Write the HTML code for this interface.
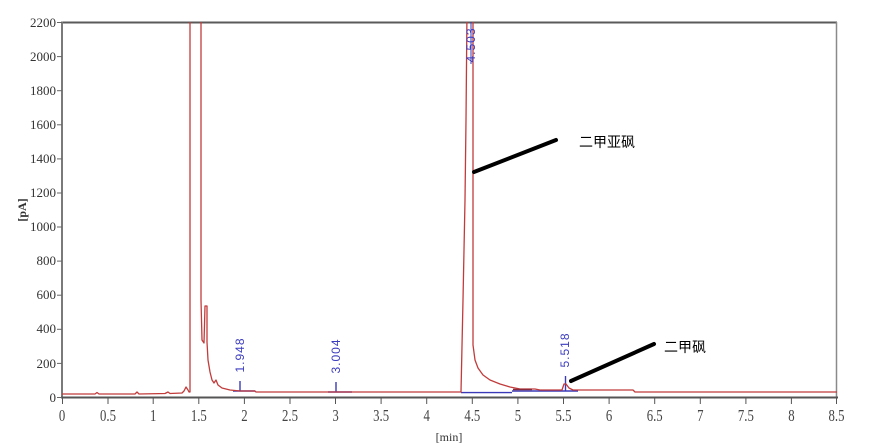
<!DOCTYPE html>
<html><head><meta charset="utf-8"><style>
html,body{margin:0;padding:0;background:#fff;}
svg{display:block;}
</style></head><body>
<svg width="884" height="448" viewBox="0 0 884 448" xmlns="http://www.w3.org/2000/svg">
<defs><clipPath id="pc"><rect x="62" y="22" width="775" height="376"/></clipPath></defs>
<rect width="884" height="448" fill="#fff"/>
<!-- frame -->
<line x1="62" y1="22.5" x2="837" y2="22.5" stroke="#5a5a5a" stroke-width="2"/>
<line x1="836.5" y1="22" x2="836.5" y2="398" stroke="#8a8a8a" stroke-width="1.5"/>
<line x1="62" y1="21.5" x2="62" y2="398" stroke="#7a7a7a" stroke-width="2"/>
<line x1="61" y1="397.5" x2="838" y2="397.5" stroke="#555" stroke-width="2"/>
<!-- y ticks -->
<g stroke="#666" stroke-width="1">
<line x1="57" y1="22.5" x2="62" y2="22.5"/><line x1="57" y1="56.6" x2="62" y2="56.6"/><line x1="57" y1="90.7" x2="62" y2="90.7"/><line x1="57" y1="124.8" x2="62" y2="124.8"/><line x1="57" y1="158.9" x2="62" y2="158.9"/><line x1="57" y1="193" x2="62" y2="193"/><line x1="57" y1="227" x2="62" y2="227"/><line x1="57" y1="261.1" x2="62" y2="261.1"/><line x1="57" y1="295.2" x2="62" y2="295.2"/><line x1="57" y1="329.3" x2="62" y2="329.3"/><line x1="57" y1="363.4" x2="62" y2="363.4"/><line x1="57" y1="397.5" x2="62" y2="397.5"/>
</g>
<g font-family="Liberation Serif, serif" font-size="13" fill="#333" text-anchor="end">
<text x="56" y="27">2200</text><text x="56" y="61">2000</text><text x="56" y="95">1800</text><text x="56" y="129">1600</text><text x="56" y="163">1400</text><text x="56" y="197">1200</text><text x="56" y="231">1000</text><text x="56" y="265">800</text><text x="56" y="299">600</text><text x="56" y="333">400</text><text x="56" y="368">200</text><text x="56" y="402">0</text>
</g>
<!-- x ticks -->
<g stroke="#555" stroke-width="1">
<line x1="62.5" y1="398" x2="62.5" y2="404"/><line x1="108" y1="398" x2="108" y2="404"/><line x1="153.2" y1="398" x2="153.2" y2="404"/><line x1="198.8" y1="398" x2="198.8" y2="404"/><line x1="244.4" y1="398" x2="244.4" y2="404"/><line x1="290" y1="398" x2="290" y2="404"/><line x1="335.5" y1="398" x2="335.5" y2="404"/><line x1="381.1" y1="398" x2="381.1" y2="404"/><line x1="426.7" y1="398" x2="426.7" y2="404"/><line x1="472.3" y1="398" x2="472.3" y2="404"/><line x1="517.9" y1="398" x2="517.9" y2="404"/><line x1="563.5" y1="398" x2="563.5" y2="404"/><line x1="609.1" y1="398" x2="609.1" y2="404"/><line x1="654.7" y1="398" x2="654.7" y2="404"/><line x1="700.3" y1="398" x2="700.3" y2="404"/><line x1="745.9" y1="398" x2="745.9" y2="404"/><line x1="791.4" y1="398" x2="791.4" y2="404"/><line x1="836.5" y1="398" x2="836.5" y2="404"/>
</g>
<g font-family="Liberation Serif, serif" font-size="17" fill="#444" text-anchor="middle">
<text transform="translate(62,421) scale(0.75,1)">0</text>
<text transform="translate(108,421) scale(0.75,1)">0.5</text>
<text transform="translate(153.2,421) scale(0.75,1)">1</text>
<text transform="translate(198.8,421) scale(0.75,1)">1.5</text>
<text transform="translate(244.4,421) scale(0.75,1)">2</text>
<text transform="translate(290,421) scale(0.75,1)">2.5</text>
<text transform="translate(335.5,421) scale(0.75,1)">3</text>
<text transform="translate(381.1,421) scale(0.75,1)">3.5</text>
<text transform="translate(426.7,421) scale(0.75,1)">4</text>
<text transform="translate(472.3,421) scale(0.75,1)">4.5</text>
<text transform="translate(517.9,421) scale(0.75,1)">5</text>
<text transform="translate(563.5,421) scale(0.75,1)">5.5</text>
<text transform="translate(609.1,421) scale(0.75,1)">6</text>
<text transform="translate(654.7,421) scale(0.75,1)">6.5</text>
<text transform="translate(700.3,421) scale(0.75,1)">7</text>
<text transform="translate(745.9,421) scale(0.75,1)">7.5</text>
<text transform="translate(791.4,421) scale(0.75,1)">8</text>
<text transform="translate(836.5,421) scale(0.75,1)">8.5</text>
</g>
<text x="449" y="441" font-family="Liberation Serif, serif" font-size="12" fill="#333" text-anchor="middle">[min]</text>
<text transform="translate(26,210) rotate(-90)" font-family="Liberation Serif, serif" font-size="12" font-weight="bold" fill="#333" text-anchor="middle">[pA]</text>
<!-- blue baselines -->
<g clip-path="url(#pc)" stroke="#3a3ab8" stroke-width="1.4" fill="none">
<line x1="233" y1="391" x2="255" y2="391"/>
<line x1="240" y1="381" x2="240" y2="391"/>
<line x1="328" y1="392" x2="352" y2="392"/>
<line x1="336" y1="382" x2="336" y2="392"/>
<line x1="461" y1="392.6" x2="512" y2="392.6"/>
<line x1="512" y1="391" x2="578" y2="391"/>
<line x1="565.5" y1="376" x2="565.5" y2="391"/>
<line x1="471" y1="22" x2="471" y2="64" stroke-width="1"/>
</g>
<!-- red trace -->
<g clip-path="url(#pc)">
<path fill="none" stroke="#c23b3b" stroke-width="1.3" stroke-linejoin="round" d="M62,394 L95,394 L97,392.5 L99,394 L135,394 L137,392 L139,394 L165,393.5 L168,392 L170,393.5 L182,393 L184,391 L186,387 L188,390 L189,392 L190,392 L190,10 L201,10 L201,300 L202,340 L204,343 L205,306 L207,306 L207,342 L208,360 L210,372 L212,380 L214,383 L216,380 L218,385 L222,388 L230,390 L240,391 L255,391 L256,392 L461,392 L463,300 L465,200 L466,120 L467,10 L473,10 L473,345 L475,360 L478,368 L483,375 L490,380 L500,384 L510,387 L520,389 L535,389 L540,390 L562,390 L564,384 L566,384 L569,388 L573,390 L633,390 L635,392 L837,392"/>
<line x1="513" y1="389.5" x2="532" y2="389.5" stroke="#8a2a3a" stroke-width="1.6"/>
</g>
<!-- blue labels -->
<g font-family="Liberation Sans, sans-serif" font-size="12" letter-spacing="1" fill="#3c3cc0" text-anchor="middle">
<text transform="translate(244,355) rotate(-90)">1.948</text>
<text transform="translate(340,356) rotate(-90)">3.004</text>
<text transform="translate(475,45) rotate(-90)">4.503</text>
<text transform="translate(569,350) rotate(-90)">5.518</text>
</g>
<!-- annotations -->
<line x1="474" y1="172" x2="556" y2="140" stroke="#000" stroke-width="4" stroke-linecap="round"/>
<line x1="571" y1="381" x2="654" y2="344" stroke="#000" stroke-width="4" stroke-linecap="round"/>
<g font-family="Liberation Sans, 'Noto Sans CJK SC', sans-serif" font-size="14" fill="#000">
<text x="579" y="147">二甲亚砜</text>
<text x="664" y="352">二甲砜</text>
</g>
</svg>
</body></html>
